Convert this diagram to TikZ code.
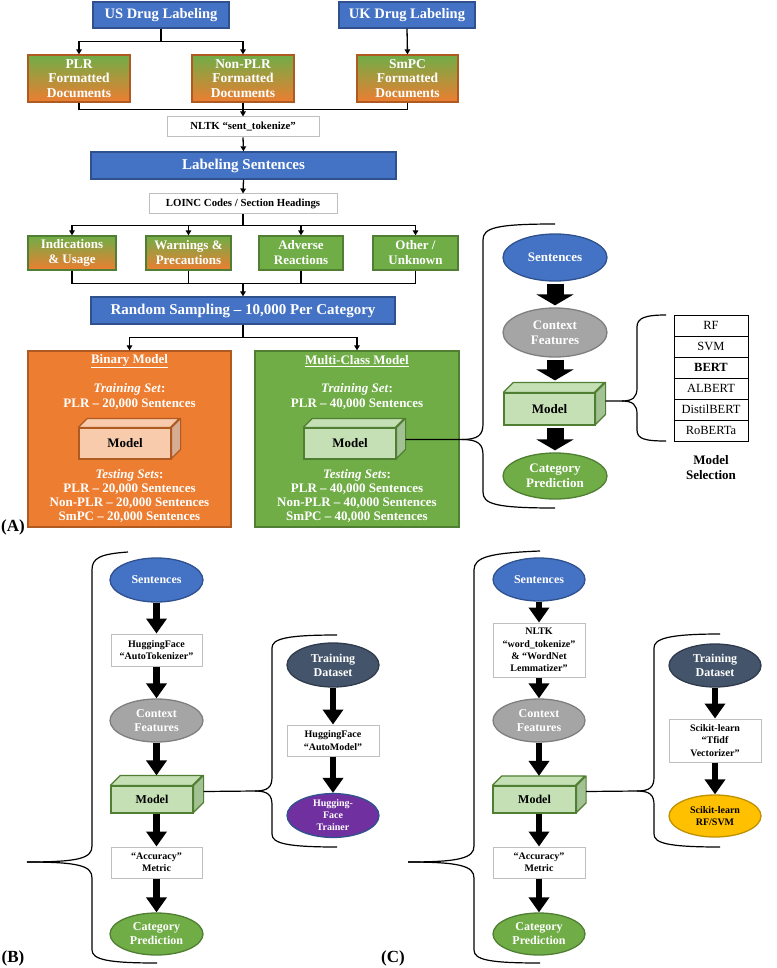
\documentclass[tikz,border=0pt]{standalone}
\usepackage{fontspec}
\setmainfont{Liberation Serif}
\usetikzlibrary{shapes.geometric,arrows.meta,calc}

\definecolor{cblue}{HTML}{4472C4}
\definecolor{cblueD}{HTML}{2F528F}
\definecolor{corange}{HTML}{ED7D31}
\definecolor{corangeD}{HTML}{AE5A21}
\definecolor{cgreen}{HTML}{70AD47}
\definecolor{cgreenD}{HTML}{507E32}
\definecolor{cgray}{HTML}{A5A5A5}
\definecolor{cgrayD}{HTML}{7F7F7F}
\definecolor{lgreen}{HTML}{C5E0B4}
\definecolor{lgreenS}{HTML}{A3C293}
\definecolor{lorange}{HTML}{F8CBAD}
\definecolor{lorangeS}{HTML}{D6AC93}
\definecolor{cslate}{HTML}{44546A}
\definecolor{cslateD}{HTML}{2F3B4C}
\definecolor{cpurple}{HTML}{7030A0}
\definecolor{cgold}{HTML}{FFC000}
\definecolor{cgoldD}{HTML}{BF9000}

\newcommand{\fs}[2]{\fontsize{#1}{#2}\selectfont}
% name, pos, w, h, depth, front, side, border, fontsize
\newcommand{\cuboid}[9]{%
  \node[draw=#8, fill=#6, line width=1.2pt, minimum width=#3pt, minimum height=#4pt,
        inner sep=0pt, font=\bfseries\fs{#9}{#9}] (#1) at (#2) {Model};
  \filldraw[fill=#7, draw=#8, line width=1.2pt, line join=round]
     (#1.north east) -- ++(#5,-#5) -- ++(0,#4) -- ++(-#5,#5) -- cycle;
  \filldraw[fill=#6, draw=#8, line width=1.2pt, line join=round]
     (#1.north west) -- ++(#5,-#5) -- ++(#3,0) -- ++(-#5,#5) -- cycle;
}

\begin{document}
\begin{tikzpicture}[x=1pt,y=-1pt,
  base/.style={inner sep=0pt, align=center},
  bluebox/.style={base, fill=cblue, draw=cblueD, line width=1.3pt, text=white, font=\bfseries\fs{15}{17}},
  gradbox/.style={base, top color=cgreen, bottom color=corange, draw=corangeD, line width=1.3pt,
                  text=white, minimum height=47pt, font=\bfseries\fs{13.5}{14.5}},
  catbox/.style={base, draw=cgreenD, line width=1.3pt, text=white, minimum height=34pt,
                 font=\bfseries\fs{13}{15}},
  txtbox/.style={base, fill=white, draw=black!25, line width=1pt, font=\bfseries\fs{10.8}{12}},
  stxt/.style={base, fill=white, draw=black!25, line width=1pt, minimum width=92pt, font=\bfseries\fs{10}{12.3}},
  ell/.style={base, ellipse, line width=1.3pt, text=white, font=\bfseries\fs{13}{15}},
  sell/.style={base, ellipse, line width=1.3pt, text=white, minimum width=92pt, minimum height=43pt, font=\bfseries\fs{12}{14}},
  wtext/.style={base, text=white, font=\bfseries\fs{13}{14}},
  line/.style={line width=1.3pt},
  conn/.style={line width=1.3pt, -{Triangle[length=5pt,width=5.5pt]}},
  bigA/.style={line width=17pt, -{Triangle[length=11pt,width=37pt]}, shorten <=2pt, shorten >=2pt},
  bigB/.style={line width=6.3pt, -{Triangle[length=15pt,width=20pt]}},
  brace/.style={line width=1.2pt, line join=round},
  cell/.style={base, draw=black, line width=1pt, minimum width=74pt, minimum height=21pt, font=\fs{12.5}{14}},
  lab/.style={base, font=\bfseries\fs{17}{19}}
]
\useasboundingbox (0,0) rectangle (776,968);

% ---------------- (A) top flow ----------------
\node[bluebox, minimum width=136pt, minimum height=26pt, font=\bfseries\fs{14.5}{16}] (us) at (161,15) {US Drug Labeling};
\node[bluebox, minimum width=136pt, minimum height=26pt, font=\bfseries\fs{14.5}{16}] (uk) at (407,15) {UK Drug Labeling};
\node[gradbox, minimum width=102pt] (plr) at (79,78.5) {PLR\\Formatted\\Documents};
\node[gradbox, minimum width=102pt] (nplr) at (243,78.5) {Non-PLR\\Formatted\\Documents};
\node[gradbox, minimum width=101pt] (smpc) at (407.5,78.5) {SmPC\\Formatted\\Documents};
\node[txtbox, minimum width=152pt, minimum height=20pt] (sent) at (243,127) {NLTK “sent\_tokenize”};
\node[bluebox, minimum width=305pt, minimum height=27pt] (ls) at (243.5,165.5) {Labeling Sentences};
\node[txtbox, minimum width=188pt, minimum height=20pt] (loinc) at (243,204) {LOINC Codes / Section Headings};
\node[catbox, top color=cgreen, bottom color=corange, minimum width=88pt] (ind) at (72,253) {Indications\\\& Usage};
\node[catbox, top color=cgreen, bottom color=corange, minimum width=85pt] (warn) at (188.5,253) {Warnings \&\\Precautions};
\node[catbox, fill=cgreen, minimum width=84pt] (adv) at (301,253) {Adverse\\Reactions};
\node[catbox, fill=cgreen, minimum width=85pt] (oth) at (415.5,253) {Other /\\Unknown};
\node[bluebox, minimum width=304pt, minimum height=27pt] (rs) at (243,310.5) {Random Sampling -- 10,000 Per Category};

\draw[conn] (us.south) -- ++(0,13) -| (plr.north);
\draw[conn] (us.south) -- ++(0,13) -| (nplr.north);
\draw[conn] (uk.south) -- (smpc.north);
\draw[line] (plr.south) -- ++(0,7) -| (smpc.south);
\draw[conn] (nplr.south) -- (sent.north);
\draw[conn] (sent.south) -- (ls.north);
\draw[conn] (ls.south) -- (loinc.south |- loinc.north);
\draw[line] (loinc.south) -- ++(0,11) coordinate (h1);
\draw[conn] (h1) -| (ind.north);
\draw[conn] (h1) -| (warn.north);
\draw[conn] (h1) -| (adv.north);
\draw[conn] (h1) -| (oth.north);
\draw[line] (ind.south) -- ++(0,13) coordinate (h2) -| (oth.south);
\draw[line] (warn.south) -- (warn.south |- h2);
\draw[line] (adv.south) -- (adv.south |- h2);
\draw[conn] (h2 -| rs.north) -- (rs.north);

% binary / multi boxes
\node[base, fill=corange, draw=corangeD, line width=1.3pt, minimum width=203pt, minimum height=176pt] (bin) at (129.5,439) {};
\node[base, fill=cgreen, draw=cgreenD, line width=1.3pt, minimum width=204pt, minimum height=176pt] (mul) at (357,439) {};
\draw[conn] (rs.south) -- ++(0,13) -| (bin.north);
\draw[conn] (rs.south) -- ++(0,13) -| (mul.north);

\node[wtext] (binT) at (129.5,361) {\underline{Binary Model}};
\node[wtext, font=\bfseries\fs{13}{15}] (binTr) at (129.5,396) {\textit{Training Set}:\\PLR -- 20,000 Sentences};
\cuboid{binM}{125,443.5}{92}{31}{9}{lorange}{lorangeS}{corangeD}{13}
\node[wtext] (binTe) at (129.5,496) {\textit{Testing Sets}:\\PLR -- 20,000 Sentences\\Non-PLR -- 20,000 Sentences\\SmPC -- 20,000 Sentences};

\node[wtext] (mulT) at (357,361) {\underline{Multi-Class Model}};
\node[wtext, font=\bfseries\fs{13}{15}] (mulTr) at (357,396) {\textit{Training Set}:\\PLR -- 40,000 Sentences};
\cuboid{mulM}{350,443.5}{92}{31}{9}{lgreen}{lgreenS}{cgreenD}{13}
\node[wtext] (mulTe) at (357,496) {\textit{Testing Sets}:\\PLR -- 40,000 Sentences\\Non-PLR -- 40,000 Sentences\\SmPC -- 40,000 Sentences};

% right-hand pipeline of (A)
\node[ell, fill=cblue, draw=cblueD, minimum width=104pt, minimum height=47pt] (aS) at (555,257.5) {Sentences};
\node[ell, fill=cgray, draw=cgrayD, minimum width=104pt, minimum height=49pt] (aC) at (555,332.5) {Context\\Features};
\cuboid{aM}{549.5,409}{91}{32}{10}{lgreen}{lgreenS}{cgreenD}{13}
\node[ell, fill=cgreen, draw=cgreenD, minimum width=104pt, minimum height=46pt] (aP) at (555,476) {Category\\Prediction};
\draw[bigA] (aS.south) -- (aC.north);
\draw[bigA] (aC.south) -- ($(aC.south |- aM.north)+(0,-10)$);
\draw[bigA] (aM.south -| aC.south) -- (aP.north);

% big brace of (A)
\draw[brace] (mulM.east) ++(9,-4) -- (462,439.5) coordinate (tipA)
   .. controls (478,439.5) and (483,435) .. (483,424) -- (483,240)
   .. controls (483,228) and (495,224) .. (555,224);
\draw[brace] (tipA) .. controls (478,439.5) and (483,444) .. (483,455) -- (483,492)
   .. controls (483,504) and (495,508) .. (555,508);

% model selection
\node[cell] (t1) at (711,325.5) {RF};
\node[cell] (t2) at (711,346.5) {SVM};
\node[cell, font=\bfseries\fs{12.5}{14}] (t3) at (711,367.5) {BERT};
\node[cell] (t4) at (711,388.5) {ALBERT};
\node[cell] (t5) at (711,409.5) {DistilBERT};
\node[cell] (t6) at (711,430.5) {RoBERTa};
\node[base, font=\bfseries\fs{13}{15}] (msel) at (711,467.5) {Model\\Selection};
\draw[brace] (aM.east) ++(10,-8) -- (622,401) coordinate (tipS)
   .. controls (633,401) and (637,397) .. (637,388) -- (637,327)
   .. controls (637,318) and (645,315) .. (666,315);
\draw[brace] (tipS) .. controls (633,401) and (637,405) .. (637,414) -- (637,430)
   .. controls (637,439) and (645,441) .. (666,441);

\node[lab] (labA) at (13,527) {(A)};

% ---------------- (B) ----------------
\node[sell, fill=cblue, draw=cblueD, minimum width=93pt, minimum height=44pt] (bS) at (156.5,580) {Sentences};
\node[stxt, minimum width=91pt, minimum height=32pt] (bT) at (156.5,650) {HuggingFace\\“AutoTokenizer”};
\node[sell, fill=cgray, draw=cgrayD, minimum width=93pt] (bC) at (156.5,720.5) {Context\\Features};
\cuboid{bM}{152,799.5}{82}{27}{10}{lgreen}{lgreenS}{cgreenD}{12}
\node[stxt, minimum width=91pt, minimum height=31pt] (bA) at (156.5,862.5) {“Accuracy”\\Metric};
\node[sell, fill=cgreen, draw=cgreenD, minimum width=93pt, minimum height=42pt] (bP) at (156.5,934) {Category\\Prediction};
\draw[bigB] (bS.south) -- (bT.north);
\draw[bigB] (bT.south) -- (bC.north);
\draw[bigB] (bC.south) -- ($(bC.south |- bM.north)+(0,-10)$);
\draw[bigB] (bM.south -| bC.south) -- (bA.north);
\draw[bigB] (bA.south) -- (bP.north);

\node[sell, fill=cslate, draw=cslateD, minimum height=44pt] (bD) at (333,665) {Training\\Dataset};
\node[stxt, minimum height=31pt] (bAM) at (333,740.5) {HuggingFace\\“AutoModel”};
\node[sell, fill=cpurple, draw=cblueD, font=\bfseries\fs{10}{12}] (bTr) at (333,815.5) {Hugging-\\Face\\Trainer};
\draw[bigB] (bD.south) -- (bAM.north);
\draw[bigB] (bAM.south) -- (bTr.north);

\draw[brace] (128,552) .. controls (100,554) and (92,558) .. (92,570) -- (92,846)
   .. controls (92,858) and (80,862) .. (27,862) coordinate (tipB);
\draw[brace] (tipB) .. controls (80,862) and (92,866) .. (92,878) -- (92,950)
   .. controls (92,960) and (110,963) .. (157,963);
\draw[brace] (bM.east) ++(10,-8) -- (255,791) coordinate (tipBs)
   .. controls (268,791) and (272,787) .. (272,777) -- (272,648)
   .. controls (272,639) and (285,635) .. (337,635);
\draw[brace] (tipBs) .. controls (268,791) and (272,795) .. (272,805) -- (272,834)
   .. controls (272,843) and (285,847) .. (337,847);

\node[lab] (labB) at (13,958) {(B)};

% ---------------- (C) ----------------
\node[sell, fill=cblue, draw=cblueD] (cS) at (539,579.5) {Sentences};
\node[stxt, minimum height=54pt] (cN) at (539,650) {NLTK\\“word\_tokenize”\\\& “WordNet\\Lemmatizer”};
\node[sell, fill=cgray, draw=cgrayD] (cC) at (539,720.5) {Context\\Features};
\cuboid{cM}{534.5,799.5}{83}{27}{9.5}{lgreen}{lgreenS}{cgreenD}{12}
\node[stxt, minimum height=31pt] (cA) at (539,862.5) {“Accuracy”\\Metric};
\node[sell, fill=cgreen, draw=cgreenD, minimum height=42pt] (cP) at (539,934) {Category\\Prediction};
\draw[bigB] (cS.south) -- (cN.north);
\draw[bigB] (cN.south) -- (cC.north);
\draw[bigB] (cC.south) -- ($(cC.south |- cM.north)+(0,-9.5)$);
\draw[bigB] (cM.south -| cC.south) -- (cA.north);
\draw[bigB] (cA.south) -- (cP.north);

\node[sell, fill=cslate, draw=cslateD] (cD) at (715,665.5) {Training\\Dataset};
\node[stxt, minimum height=43pt] (cTf) at (715,740.5) {Scikit-learn\\“Tfidf\\Vectorizer”};
\node[sell, fill=cgold, draw=cgoldD, text=black, minimum height=42pt, font=\bfseries\fs{10}{12}] (cRF) at (715,816) {Scikit-learn\\RF/SVM};
\draw[bigB] (cD.south) -- (cTf.north);
\draw[bigB] (cTf.south) -- (cRF.north);

\draw[brace] (540,551) .. controls (490,553) and (474,557) .. (474,570) -- (474,846)
   .. controls (474,858) and (460,862) .. (408,862) coordinate (tipC);
\draw[brace] (tipC) .. controls (460,862) and (474,866) .. (474,878) -- (474,950)
   .. controls (474,960) and (490,963) .. (540,963);
\draw[brace] (cM.east) ++(9.5,-8) -- (637,791) coordinate (tipCs)
   .. controls (650,791) and (654,787) .. (654,777) -- (654,648)
   .. controls (654,639) and (667,634) .. (720,634);
\draw[brace] (tipCs) .. controls (650,791) and (654,795) .. (654,805) -- (654,834)
   .. controls (654,843) and (667,847) .. (720,847);

\node[lab] (labC) at (393,958) {(C)};
\end{tikzpicture}
\end{document}
